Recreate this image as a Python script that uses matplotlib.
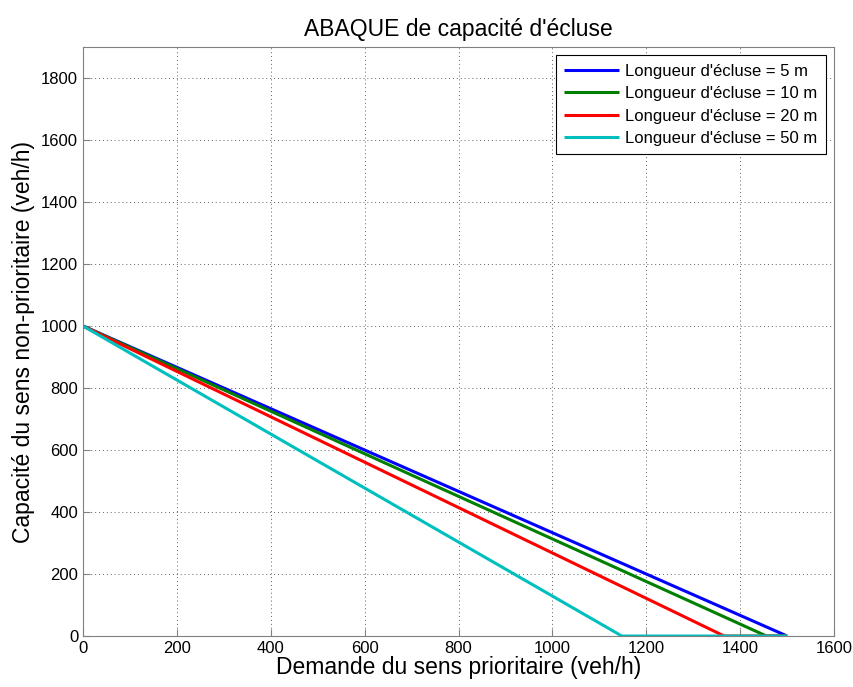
import numpy as np
import matplotlib
matplotlib.use("Agg")
import matplotlib.pyplot as plt

plt.rcParams['font.family'] = ['Liberation Sans', 'DejaVu Sans']

# lock lengths and where each line hits zero
labels = ["Longueur d'écluse = 5 m", "Longueur d'écluse = 10 m",
          "Longueur d'écluse = 20 m", "Longueur d'écluse = 50 m"]
colors = ['#0000ff', '#007f00', '#ff0000', '#00bfbf']
x_pts = [[0, 1500, 1500],
         [0, 1456, 1500],
         [0, 1366, 1500],
         [0, 1148, 1500]]
y_pts = [[1000, 0, 0],
         [1000, 0, 0],
         [1000, 0, 0],
         [1000, 0, 0]]

fig = plt.figure(figsize=(8.54, 6.87), dpi=100)
ax = fig.add_axes([0.0972, 0.0742, 0.8794, 0.8574])

for xs, ys, c, lab in zip(x_pts, y_pts, colors, labels):
    ax.plot(xs, ys, color=c, lw=2.2, label=lab, solid_capstyle='butt')

ax.set_xlim(0, 1600)
ax.set_ylim(0, 1900)
ax.set_xticks(np.arange(0, 1601, 200))
ax.set_yticks(np.arange(0, 1801, 200))
ax.grid(True, linestyle=(0, (1, 3)), color='#606060', lw=0.7)
ax.tick_params(direction='in', labelsize=12, length=5, color='#808080')
for s in ax.spines.values():
    s.set_color('#808080')

ax.set_title("ABAQUE de capacité d'écluse", fontsize=16.5, pad=8)
ax.set_xlabel("Demande du sens prioritaire (veh/h)", fontsize=16.5, labelpad=0)
ax.set_ylabel("Capacité du sens non-prioritaire (veh/h)", fontsize=16.5, labelpad=4)

leg = ax.legend(loc='upper right', fontsize=12, fancybox=False, framealpha=1,
                edgecolor='black', handlelength=3.3, handletextpad=0.35,
                borderaxespad=0.5, labelspacing=0.45, borderpad=0.5)
leg.get_frame().set_linewidth(0.8)

fig.savefig('out.png', dpi=100)
